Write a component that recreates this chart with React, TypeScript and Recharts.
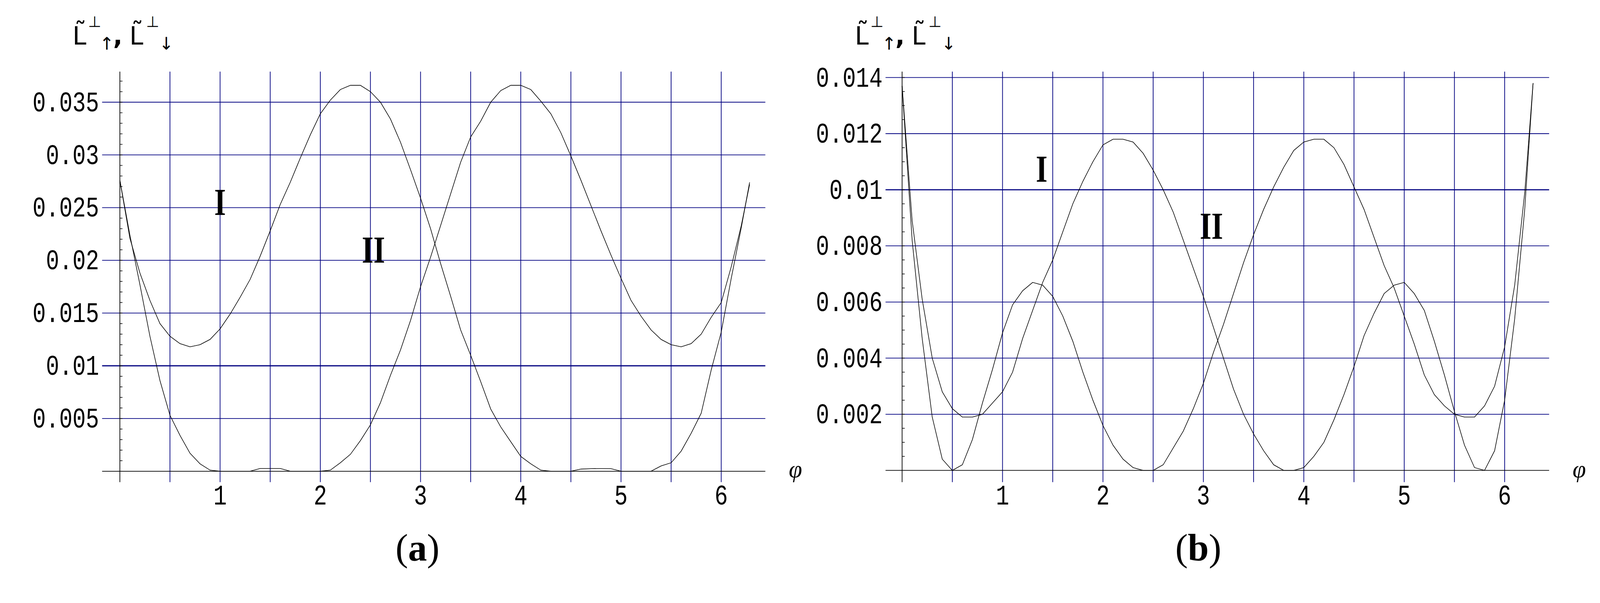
import React from "react";
import { LineChart, Line, XAxis, YAxis, ReferenceLine, ReferenceDot } from "recharts";

// angle grid (rad), shared by every curve
const phi = [
  0, 0.1, 0.2, 0.3, 0.4, 0.5, 0.6, 0.7, 0.8, 0.9,
  1.0, 1.1, 1.2, 1.3, 1.4, 1.5, 1.6, 1.7, 1.8, 1.9,
  2.0, 2.1, 2.2, 2.3, 2.4, 2.5, 2.6, 2.7, 2.8, 2.9,
  3.0, 3.1, 3.2, 3.3, 3.4, 3.5, 3.6, 3.7, 3.8, 3.9,
  4.0, 4.1, 4.2, 4.3, 4.4, 4.5, 4.6, 4.7, 4.8, 4.9,
  5.0, 5.1, 5.2, 5.3, 5.4, 5.5, 5.6, 5.7, 5.8, 5.9,
  6.0, 6.1, 6.2, 6.2832,
];

// panel (a)
const aCurveI = [
  0.0276, 0.0221, 0.0188, 0.0162, 0.014, 0.0128, 0.0121, 0.0118, 0.012, 0.0125,
  0.0135, 0.0149, 0.0165, 0.0182, 0.0204, 0.0228, 0.0253, 0.0274, 0.0297, 0.0319,
  0.0339, 0.0352, 0.0362, 0.0366, 0.0366, 0.036, 0.035, 0.0334, 0.0312, 0.0286,
  0.0259, 0.023, 0.0197, 0.0166, 0.0134, 0.011, 0.0085, 0.0059, 0.0042, 0.0028,
  0.0014, 0.0007, 0.0001, 0, 0, 0, 0.0002, 0.00024, 0.00025, 0.00024,
  0, 0, 0, 0, 0.0005, 0.0008, 0.0019, 0.0036, 0.0055, 0.0096,
  0.0132, 0.0183, 0.0231, 0.0274,
];
const aCurveII = [
  0.0276, 0.0224, 0.0177, 0.0128, 0.0086, 0.0053, 0.0034, 0.0017, 0.0007, 0.0001,
  0, 0, 0, 0, 0.00026, 0.00026, 0.00026, 0, 0, 0,
  0, 0.0001, 0.0008, 0.0016, 0.0029, 0.0044, 0.0065, 0.0091, 0.0115, 0.0143,
  0.0175, 0.0203, 0.0233, 0.0263, 0.0293, 0.0317, 0.0332, 0.035, 0.0361, 0.0366,
  0.0366, 0.0362, 0.0351, 0.0339, 0.0321, 0.0299, 0.0276, 0.0252, 0.0228, 0.0205,
  0.0183, 0.0162, 0.0147, 0.0134, 0.0125, 0.012, 0.0118, 0.0121, 0.013, 0.0146,
  0.016, 0.0194, 0.0233, 0.0272,
];

// panel (b)
const bCurveI = [
  0.0137, 0.0089, 0.0061, 0.004, 0.0028, 0.0022, 0.0019, 0.0019, 0.002, 0.0024,
  0.0028, 0.0035, 0.0047, 0.0057, 0.0067, 0.0075, 0.0085, 0.0095, 0.0103, 0.011,
  0.0116, 0.0118, 0.0118, 0.0117, 0.0113, 0.0107, 0.01, 0.0092, 0.0082, 0.0072,
  0.0062, 0.0051, 0.004, 0.0029, 0.002, 0.0013, 0.0007, 0.0002, 0, 0,
  0.0001, 0.0005, 0.001, 0.0018, 0.0027, 0.0037, 0.0048, 0.0056, 0.0063, 0.0066,
  0.0067, 0.0063, 0.0057, 0.0046, 0.0034, 0.0021, 0.0009, 0.0001, 0, 0.0007,
  0.0025, 0.0054, 0.0093, 0.0138,
];
const bCurveII = [
  0.0137, 0.0082, 0.0047, 0.0019, 0.0004, 0, 0.0002, 0.0011, 0.0024, 0.0036,
  0.0049, 0.0059, 0.0064, 0.0067, 0.0066, 0.0062, 0.0055, 0.0046, 0.0035, 0.0025,
  0.0016, 0.0009, 0.0004, 0.0001, 0, 0, 0.0002, 0.0008, 0.0014, 0.0022,
  0.0031, 0.0042, 0.0052, 0.0063, 0.0074, 0.0084, 0.0093, 0.0101, 0.0108, 0.0114,
  0.0117, 0.0118, 0.0118, 0.0115, 0.0109, 0.0101, 0.0093, 0.0083, 0.0073, 0.0065,
  0.0055, 0.0045, 0.0034, 0.0027, 0.0023, 0.002, 0.0019, 0.0019, 0.0023, 0.003,
  0.0044, 0.0066, 0.0099, 0.0138,
];

const xTicks = [1, 2, 3, 4, 5, 6];
const xGrid = [0.5, 1, 1.5, 2, 2.5, 3, 3.5, 4, 4.5, 5, 5.5, 6];
const yTicksA = [0.005, 0.01, 0.015, 0.02, 0.025, 0.03, 0.035];
const yTicksB = [0.002, 0.004, 0.006, 0.008, 0.01, 0.012, 0.014];

const minorStepA = 0.001;
const minorStepB = 0.0005;

const tableA = phi.map((p, i) => ({ phi: p, one: aCurveI[i], two: aCurveII[i] }));
const tableB = phi.map((p, i) => ({ phi: p, one: bCurveI[i], two: bCurveII[i] }));

const NAVY = "#000080";
const MONO = "'Liberation Mono', 'DejaVu Sans Mono', monospace";
const SERIF = "'Liberation Serif', 'DejaVu Serif', serif";

const minorTicks = (step: number, top: number) => {
  const out: number[] = [];
  for (let k = 1; k * step < top; k++) out.push(+(k * step).toFixed(5));
  return out;
};

// Maple-style tall, narrow numerals
const Num = ({ x, y, anchor, children }: any) => (
  <text
    transform={`translate(${x},${y}) scale(0.92,1.18)`}
    textAnchor={anchor}
    fontFamily={MONO}
    fontSize={64}
    fill="#000"
  >
    {children}
  </text>
);

const XTick = (props: any) => {
  const { x, y, payload } = props;
  return (
    <Num x={x} y={y + 59} anchor="middle">
      {payload.value}
    </Num>
  );
};

const YTick = (props: any) => {
  const { x, y, payload } = props;
  return (
    <Num x={x - 8} y={y + 24} anchor="end">
      {String(payload.value)}
    </Num>
  );
};

const Roman = (text: string) => (props: any) => (
  <text
    transform={`translate(${props.cx},${props.cy + 31}) scale(0.9,1.14)`}
    textAnchor="middle"
    fontFamily={SERIF}
    fontWeight="bold"
    fontSize={88}
    fill="#000"
  >
    {text}
  </text>
);

type PanelProps = {
  data: any[];
  left: number;
  yWidth: number;
  right: number;
  xDomain: [number, number];
  yDomain: [number, number];
  yTicks: number[];
  minor: number[];
  tickLen: number;
  labI: [number, number];
  labII: [number, number];
};

const Panel = (p: PanelProps) => (
  <div style={{ position: "absolute", left: p.left, top: 0 }}>
    <LineChart
      width={2123}
      height={1400}
      data={p.data}
      margin={{ top: 190, right: p.right, bottom: 41, left: 0 }}
    >
      <XAxis
        type="number"
        dataKey="phi"
        domain={p.xDomain}
        allowDataOverflow
        ticks={xTicks}
        interval={0}
        axisLine={false}
        tickLine={false}
        tickSize={0}
        tickMargin={0}
        height={80}
        tick={<XTick />}
      />
      <YAxis
        type="number"
        domain={p.yDomain}
        allowDataOverflow
        ticks={p.yTicks}
        interval={0}
        axisLine={false}
        tickLine={false}
        tickSize={0}
        tickMargin={0}
        width={p.yWidth}
        tick={<YTick />}
      />
      {xGrid.map((v) => (
        <ReferenceLine key={`gx${v}`} x={v} stroke={NAVY} strokeWidth={1.9} />
      ))}
      {p.yTicks.map((v) => (
        <ReferenceLine key={`gy${v}`} y={v} stroke={NAVY} strokeWidth={v === 0.01 ? 3 : 1.9} />
      ))}
      <ReferenceLine y={0} stroke="#000" strokeWidth={1.8} />
      <ReferenceLine x={0} stroke="#000" strokeWidth={1.9} />
      {p.minor.map((v) => (
        <ReferenceLine
          key={`mt${v}`}
          segment={[
            { x: 0, y: v },
            { x: p.tickLen, y: v },
          ]}
          stroke="#000"
          strokeWidth={1.6}
        />
      ))}
      <Line
        dataKey="one"
        type="linear"
        dot={false}
        activeDot={false}
        stroke="#000"
        strokeWidth={1.6}
        isAnimationActive={false}
      />
      <Line
        dataKey="two"
        type="linear"
        dot={false}
        activeDot={false}
        stroke="#000"
        strokeWidth={1.6}
        isAnimationActive={false}
      />
      <ReferenceDot x={p.labI[0]} y={p.labI[1]} r={1} shape={Roman("I")} />
      <ReferenceDot x={p.labII[0]} y={p.labII[1]} r={1} shape={Roman("II")} />
    </LineChart>
  </div>
);

const Title = ({ x }: { x: number }) => (
  <g fill="#000">
    <text x={x} y={118} fontFamily="'DejaVu Sans Mono', monospace" fontSize={66}>
      {"L\u0303"}
    </text>
    <text x={x + 42} y={72} fontFamily="'DejaVu Sans', sans-serif" fontSize={40}>
      {"\u22a5"}
    </text>
    <text x={x + 72} y={132} fontFamily="'DejaVu Sans', sans-serif" fontSize={46}>
      {"\u2191"}
    </text>
    <text x={x + 108} y={118} fontFamily="'DejaVu Sans', sans-serif" fontWeight="bold" fontSize={66}>
      {","}
    </text>
    <text x={x + 151} y={118} fontFamily="'DejaVu Sans Mono', monospace" fontSize={66}>
      {"L\u0303"}
    </text>
    <text x={x + 196} y={72} fontFamily="'DejaVu Sans', sans-serif" fontSize={40}>
      {"\u22a5"}
    </text>
    <text x={x + 230} y={132} fontFamily="'DejaVu Sans', sans-serif" fontSize={46}>
      {"\u2193"}
    </text>
  </g>
);

const Caption = ({ x, letter }: { x: number; letter: string }) => (
  <text x={x} y={1487} textAnchor="middle" fontFamily={SERIF} fontSize={100} fill="#000">
    (<tspan fontWeight="bold">{letter}</tspan>)
  </text>
);

const Phi = ({ x }: { x: number }) => (
  <text x={x} y={1266} textAnchor="middle" fontFamily={SERIF} fontStyle="italic" fontSize={64} fill="#000">
    {"\u03c6"}
  </text>
);

export default function App() {
  // fit the 4246-px drawing into whatever CSS width the window really has
  const vw = typeof window !== "undefined" && window.innerWidth ? window.innerWidth : 4246;
  const k = vw / 4246;
  return (
    <div
      style={{
        position: "absolute",
        left: 0,
        top: 0,
        width: 4246,
        height: 1543,
        background: "#fff",
        overflow: "hidden",
        transform: `scale(${k})`,
        transformOrigin: "0 0",
      }}
    >
      <Panel
        data={tableA}
        left={0}
        yWidth={271}
        right={92}
        xDomain={[-0.177, 6.44]}
        yDomain={[-0.00104, 0.0379]}
        yTicks={yTicksA}
        minor={minorTicks(minorStepA, 0.0379)}
        tickLen={0.026}
        labI={[1.0, 0.0254]}
        labII={[2.53, 0.0209]}
      />
      <Panel
        data={tableB}
        left={2123}
        yWidth={227}
        right={135}
        xDomain={[-0.165, 6.443]}
        yDomain={[-0.00042, 0.01421]}
        yTicks={yTicksB}
        minor={minorTicks(minorStepB, 0.01421)}
        tickLen={0.026}
        labI={[1.39, 0.0107]}
        labII={[3.08, 0.00867]}
      />
      <svg
        width={4246}
        height={1543}
        style={{ position: "absolute", left: 0, top: 0, pointerEvents: "none" }}
      >
        <Title x={192} />
        <Title x={2268} />
        <Phi x={2111} />
        <Phi x={4191} />
        <Caption x={1108} letter="a" />
        <Caption x={3180} letter="b" />
      </svg>
    </div>
  );
}
